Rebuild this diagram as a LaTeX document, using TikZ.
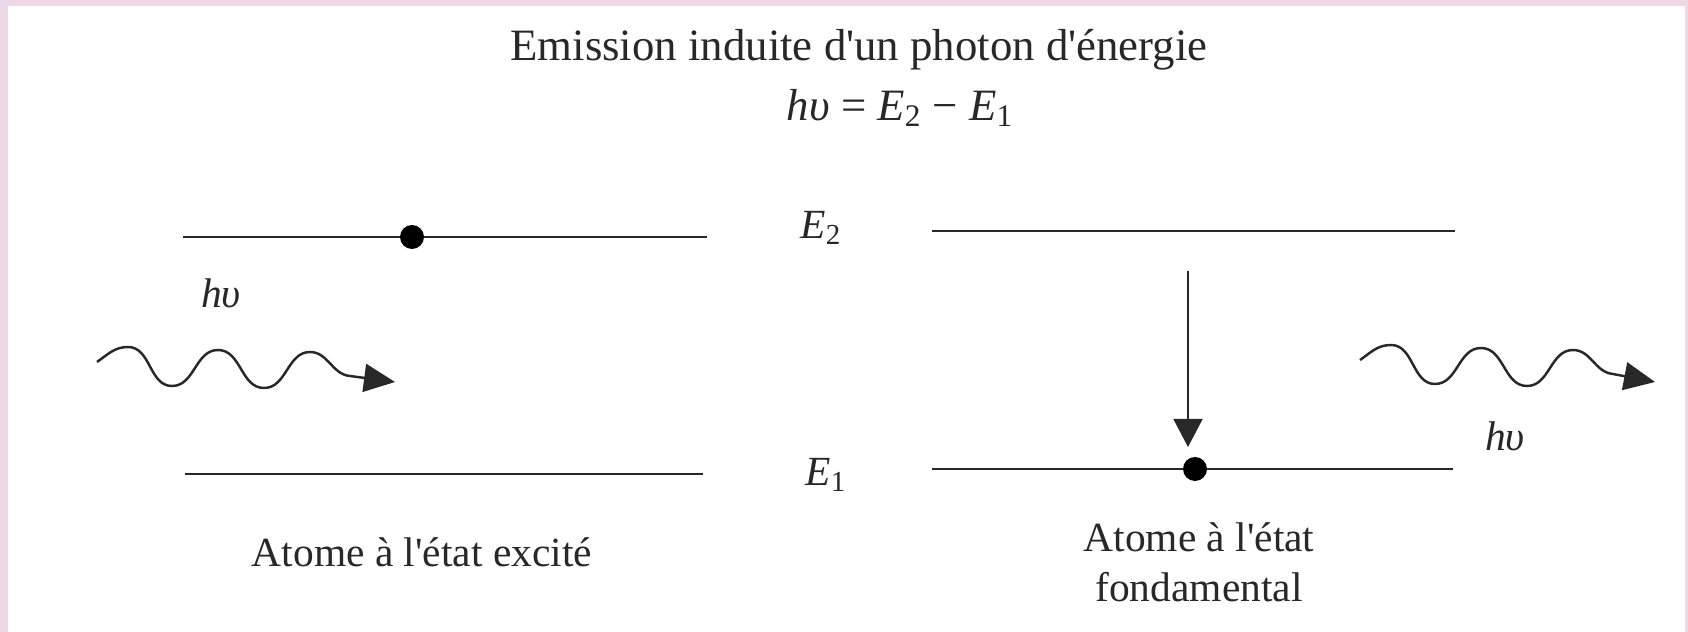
\documentclass[tikz,border=0pt]{standalone}
\usepackage{fontspec}
\setmainfont{Liberation Serif}
\usepackage{tikz}
\usetikzlibrary{arrows.meta}
\definecolor{FramePink}{RGB}{236,216,230}
\definecolor{InkGray}{RGB}{40,40,40}
\tikzset{
	level/.style={draw=InkGray,line width=1.1pt},
	electron/.style={circle,fill=black,inner sep=0pt,minimum size=0.48cm},
	photon/.style={draw=InkGray,line width=1.4pt,-{Triangle[length=0.62cm,width=0.56cm]}},
	decay/.style={draw=InkGray,line width=1.1pt,-{Triangle[length=0.56cm,width=0.58cm]}},
	lbl/.style={font=\fontsize{23.6}{28.5}\selectfont,text=InkGray,inner sep=0pt,align=center},
	heading/.style={font=\fontsize{25.5}{30}\selectfont,text=InkGray,inner sep=0pt},
}

\begin{document}
\begin{tikzpicture}
			% frame
			\useasboundingbox (0,0) rectangle (33.76,12.64);
			\fill[FramePink] (0,0) rectangle (33.76,12.64);
			\fill[white] (0.16,0) rectangle (33.70,12.52);
			% heading
			\node[heading] (title) at (17.18,11.64) {Emission induite d\textquotesingle un photon d\textquotesingle énergie};
			\node[heading] (formula) at (18.00,10.48) {\textit{h}\textit{υ} = \textit{E}\textsubscript{2} − \textit{E}\textsubscript{1}};
			% levels, excited atom
			\coordinate (lu1) at (3.66,7.90);
			\coordinate (lu2) at (14.14,7.90);
			\coordinate (ll1) at (3.70,3.16);
			\coordinate (ll2) at (14.06,3.16);
			\draw[level] (lu1)--(lu2);
			\draw[level] (ll1)--(ll2);
			\node[electron] (eup) at (8.24,7.90) {};
			% levels, ground state atom
			\coordinate (ru1) at (18.64,8.02);
			\coordinate (ru2) at (29.10,8.02);
			\coordinate (rl1) at (18.64,3.26);
			\coordinate (rl2) at (29.06,3.26);
			\draw[level] (ru1)--(ru2);
			\draw[level] (rl1)--(rl2);
			\node[electron] (edown) at (23.90,3.26) {};
			\coordinate (dtop) at (23.76,7.22);
			\coordinate (dtip) at (23.76,3.70);
			\draw[decay] (dtop)--(dtip);
			% energy labels
			\node[lbl] (e2) at (16.42,8.08) {\textit{E}\textsubscript{2}};
			\node[lbl] (e1) at (16.52,3.14) {\textit{E}\textsubscript{1}};
			% incoming photon
			\coordinate (inA) at (1.94,5.40);
			\coordinate (inB) at (7.90,5.00);
			\draw[photon] (inA) to[out=35,in=180] ++(0.62,0.30) to[out=0,in=180] ++(0.88,-0.78)
				to[out=0,in=180] ++(0.92,0.72) to[out=0,in=180] ++(0.92,-0.76)
				to[out=0,in=180] ++(0.92,0.72) to[out=0,in=175] ++(0.80,-0.48) -- (inB);
			\node[lbl] (hvin) at (4.42,6.78) {\textit{h}\textit{υ}};
			% emitted photon
			\coordinate (outA) at (27.20,5.44);
			\coordinate (outB) at (33.10,5.00);
			\draw[photon] (outA) to[out=35,in=180] ++(0.62,0.30) to[out=0,in=180] ++(0.88,-0.78)
				to[out=0,in=180] ++(0.92,0.72) to[out=0,in=180] ++(0.92,-0.76)
				to[out=0,in=180] ++(0.92,0.72) to[out=0,in=175] ++(0.80,-0.48) -- (outB);
			\node[lbl] (hvout) at (30.10,3.92) {\textit{h}\textit{υ}};
			% captions
			\node[lbl] (capL) at (8.44,1.60) {Atome à l\textquotesingle état excité};
			\node[lbl] (capR) at (23.98,1.40) {Atome à l\textquotesingle état\\fondamental};
		\end{tikzpicture}
\end{document}
